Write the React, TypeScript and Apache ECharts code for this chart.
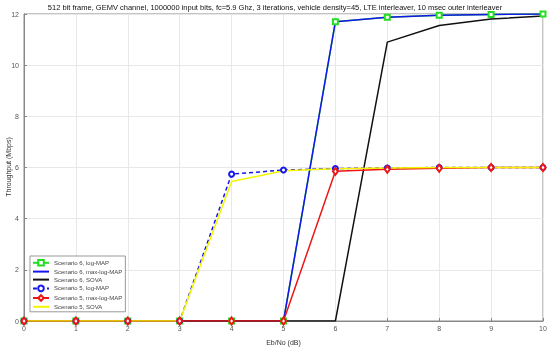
import React, { useEffect, useRef } from "react";
import * as echarts from "echarts";

const ebno = ["0", "1", "2", "3", "4", "5", "6", "7", "8", "9", "10"];
const s6LogMap = [0, 0, 0, 0, 0, 0, 11.7, 11.87, 11.95, 11.98, 12.0];
const s6MaxLogMap = [0, 0, 0, 0, 0, 0, 11.7, 11.87, 11.95, 11.98, 12.0];
const s6Sova = [0, 0, 0, 0, 0, 0, 0, 10.9, 11.55, 11.8, 11.92];
const s5LogMap = [0, 0, 0, 0, 5.74, 5.9, 5.96, 5.98, 6.0, 6.0, 6.0];
const s5MaxLogMap = [0, 0, 0, 0, 0, 0, 5.85, 5.93, 5.97, 6.0, 6.0];
const s5Sova = [0, 0, 0, 0, 5.45, 5.87, 5.95, 5.98, 6.0, 6.0, 6.0];
const yTicks = [0, 2, 4, 6, 8, 10, 12];
const yAxisName = "Throughput (Mbps)";

export default function App() {
  const ref = useRef<HTMLDivElement>(null);
  useEffect(() => {
    const chart = echarts.init(ref.current!, null, { renderer: "svg" });
    const pts = (arr: number[]) => arr.map((v, i) => [Number(ebno[i]), v]);
    const font = "Liberation Sans, Arial, sans-serif";
    const noSym = { itemStyle: { opacity: 0 } };
    chart.setOption({
      animation: false,
      title: {
        text: "512 bit frame, GEMV channel, 1000000 input bits, fc=5.9 Ghz, 3 iterations, vehicle density=45, LTE interleaver, 10 msec outer interleaver",
        left: "center",
        top: 3,
        padding: 0,
        textStyle: { fontSize: 7.5, fontWeight: "normal", color: "#111", fontFamily: font },
      },
      graphic: [
        {
          type: "text",
          x: 8.5,
          y: 167,
          rotation: Math.PI / 2,
          style: {
            text: yAxisName,
            fontSize: 7,
            fill: "#333",
            fontFamily: font,
            align: "center",
            verticalAlign: "middle",
          },
        },
      ],
      grid: {
        left: 24,
        right: 7,
        top: 14,
        bottom: 28,
        containLabel: false,
        outerBoundsMode: "none",
        show: true,
        borderColor: "#888",
        borderWidth: 1,
      },
      legend: {
        orient: "vertical",
        left: 30,
        top: 256,
        itemWidth: 16,
        itemHeight: 7,
        itemGap: 2,
        padding: [3, 3, 2, 2],
        backgroundColor: "#fff",
        borderColor: "#999",
        borderWidth: 1,
        borderRadius: 0,
        textStyle: { fontSize: 6, color: "#444", fontFamily: font },
        data: [
          { name: "Scenario 6, log-MAP" },
          { name: "Scenario 6, max-log-MAP", ...noSym },
          { name: "Scenario 6, SOVA", ...noSym },
          { name: "Scenario 5, log-MAP" },
          { name: "Scenario 5, max-log-MAP" },
          { name: "Scenario 5, SOVA", ...noSym },
        ],
      },
      xAxis: {
        type: "value",
        min: 0,
        max: 10,
        interval: 1,
        name: "Eb/No (dB)",
        nameLocation: "middle",
        nameGap: 18,
        nameTextStyle: { fontSize: 7, color: "#333", fontFamily: font },
        axisLine: { lineStyle: { color: "#888" } },
        axisTick: { show: true, inside: true, length: 3, lineStyle: { color: "#888" } },
        axisLabel: { fontSize: 7, color: "#555", margin: 4, fontFamily: font },
        splitLine: { show: true, lineStyle: { color: "#e8e8e8" } },
      },
      yAxis: {
        type: "value",
        min: 0,
        max: 12,
        interval: 2,
        axisLine: { show: true, lineStyle: { color: "#888" } },
        axisTick: { show: true, inside: true, length: 3, lineStyle: { color: "#888" } },
        axisLabel: {
          fontSize: 7,
          color: "#555",
          margin: 5,
          fontFamily: font,
          formatter: (v: number) => (yTicks.includes(v) ? String(v) : ""),
        },
        splitLine: { show: true, lineStyle: { color: "#e8e8e8" } },
      },
      series: [
        {
          name: "Scenario 6, log-MAP",
          type: "line",
          data: pts(s6LogMap),
          symbol: "emptyRect",
          symbolSize: 5,
          color: "#22dd22",
          lineStyle: { width: 1.5, color: "#22dd22" },
          itemStyle: { color: "#22dd22", borderWidth: 1.2 },
        },
        {
          name: "Scenario 6, max-log-MAP",
          type: "line",
          data: pts(s6MaxLogMap),
          symbol: "none",
          color: "#1515ee",
          lineStyle: { width: 1.5, color: "#1515ee" },
        },
        {
          name: "Scenario 6, SOVA",
          type: "line",
          data: pts(s6Sova),
          symbol: "none",
          color: "#111",
          lineStyle: { width: 1.5, color: "#111" },
        },
        {
          name: "Scenario 5, log-MAP",
          type: "line",
          data: pts(s5LogMap),
          symbol: "emptyCircle",
          symbolSize: 5,
          color: "#1515ee",
          lineStyle: { width: 1.5, type: [4, 3], color: "#1515ee" },
          itemStyle: { color: "#1515ee", borderWidth: 1.5 },
        },
        {
          name: "Scenario 5, max-log-MAP",
          type: "line",
          data: pts(s5MaxLogMap),
          symbol: "emptyDiamond",
          symbolSize: [5, 7],
          color: "#ee1515",
          lineStyle: { width: 1.5, color: "#ee1515" },
          itemStyle: { color: "#ee1515", borderWidth: 1.3 },
        },
        {
          name: "Scenario 5, SOVA",
          type: "line",
          data: pts(s5Sova),
          symbol: "none",
          color: "#f5f500",
          lineStyle: { width: 1.5, color: "#f5f500" },
        },
      ],
    });
    return () => chart.dispose();
  }, []);
  return <div ref={ref} style={{ position: "fixed", left: 0, top: 0, width: 550, height: 349 }} />;
}
